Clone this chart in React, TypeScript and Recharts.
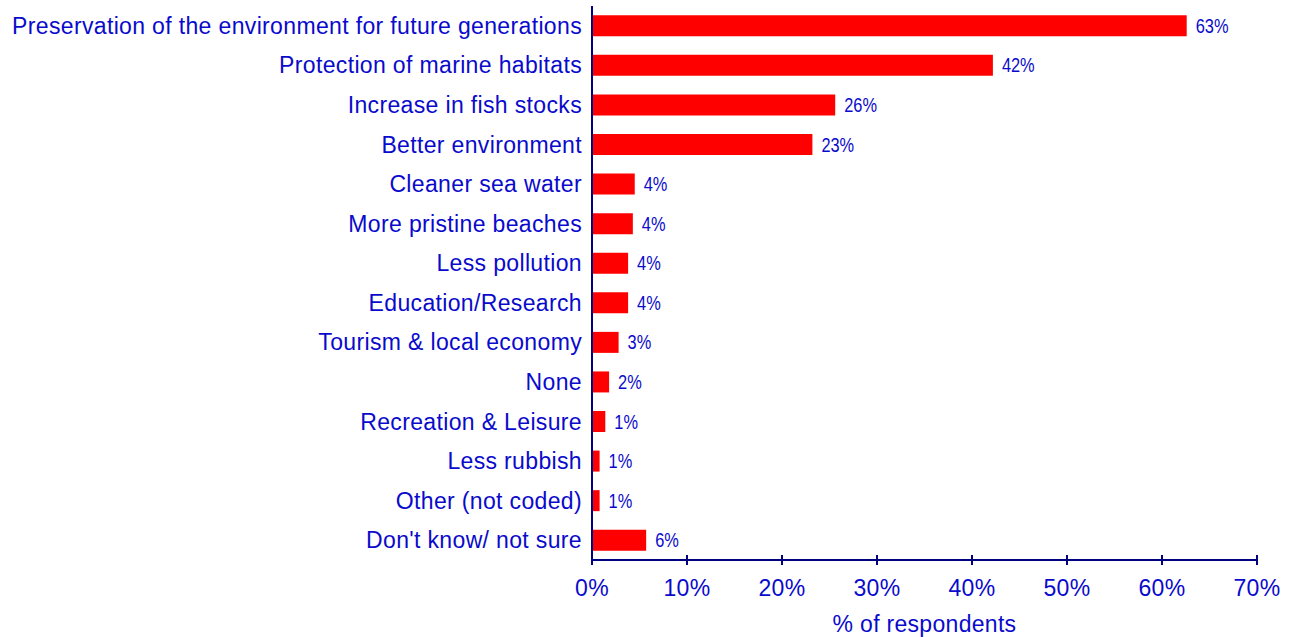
import React from 'react';
import { BarChart, Bar, XAxis, YAxis, LabelList } from 'recharts';

const categories = [
  'Preservation of the environment for future generations',
  'Protection of marine habitats',
  'Increase in fish stocks',
  'Better environment',
  'Cleaner sea water',
  'More pristine beaches',
  'Less pollution',
  'Education/Research',
  'Tourism & local economy',
  'None',
  'Recreation & Leisure',
  'Less rubbish',
  'Other (not coded)',
  "Don't know/ not sure",
];

const values = [62.6, 42.2, 25.6, 23.2, 4.5, 4.3, 3.8, 3.8, 2.8, 1.8, 1.4, 0.8, 0.8, 5.7];
const valueLabels = ['63%', '42%', '26%', '23%', '4%', '4%', '4%', '4%', '3%', '2%', '1%', '1%', '1%', '6%'];
const xTicks = [0, 10, 20, 30, 40, 50, 60, 70];

const BLUE = '#0A0ACC';
const NAVY = '#000080';
const FONT = '"Liberation Sans", Arial, sans-serif';

const data = categories.map((name, i) => ({ name, value: values[i], label: valueLabels[i] }));

// category labels on the left, right-aligned next to the axis
const CategoryTick = (props: any) => {
  const { x, y, payload } = props;
  return (
    <text
      x={x - 8}
      y={y}
      dy={8}
      textAnchor="end"
      fill={BLUE}
      fontSize={23}
      letterSpacing={0.35}
      fontFamily={FONT}
    >
      {payload.value}
    </text>
  );
};

// percent ticks, with a tick mark crossing the axis line
const PercentTick = (props: any) => {
  const { x, y, payload } = props;
  return (
    <g>
      <line x1={x} x2={x} y1={y - 5} y2={y + 5} stroke={NAVY} strokeWidth={2} />
      <text
        x={x}
        y={y + 36}
        textAnchor="middle"
        fill={BLUE}
        fontSize={23}
        letterSpacing={0.3}
        fontFamily={FONT}
      >
        {`${payload.value}%`}
      </text>
    </g>
  );
};

// narrow-looking value labels (no narrow font installed, so squeeze horizontally)
const ValueLabel = (props: any) => {
  const { x, y, width, height, index } = props;
  return (
    <text
      transform={`translate(${x + width + 9},${y + height / 2 + 7}) scale(0.82,1)`}
      fill={BLUE}
      fontSize={20}
      fontFamily={FONT}
    >
      {valueLabels[index]}
    </text>
  );
};

export default function App() {
  return (
    <div style={{ position: 'absolute', left: 0, top: 0, background: '#fff' }}>
      <BarChart
        width={1298}
        height={637}
        data={data}
        layout="vertical"
        margin={{ top: 6, right: 41, left: 0, bottom: 0 }}
        barCategoryGap="23.5%"
      >
        <XAxis
          type="number"
          domain={[0, 70]}
          ticks={xTicks}
          interval={0}
          tick={<PercentTick />}
          tickLine={false}
          tickSize={0}
          tickMargin={0}
          axisLine={{ stroke: NAVY, strokeWidth: 2 }}
          height={77}
          label={{
            value: '% of respondents',
            position: 'insideBottom',
            offset: 5,
            fill: BLUE,
            fontSize: 23,
            letterSpacing: 0.3,
            fontFamily: FONT,
          }}
        />
        <YAxis
          type="category"
          dataKey="name"
          width={592}
          interval={0}
          tick={<CategoryTick />}
          tickLine={false}
          tickSize={0}
          axisLine={{ stroke: NAVY, strokeWidth: 2 }}
        />
        <Bar dataKey="value" fill="#FF0000" isAnimationActive={false}>
          <LabelList dataKey="label" content={<ValueLabel />} />
        </Bar>
      </BarChart>
    </div>
  );
}
